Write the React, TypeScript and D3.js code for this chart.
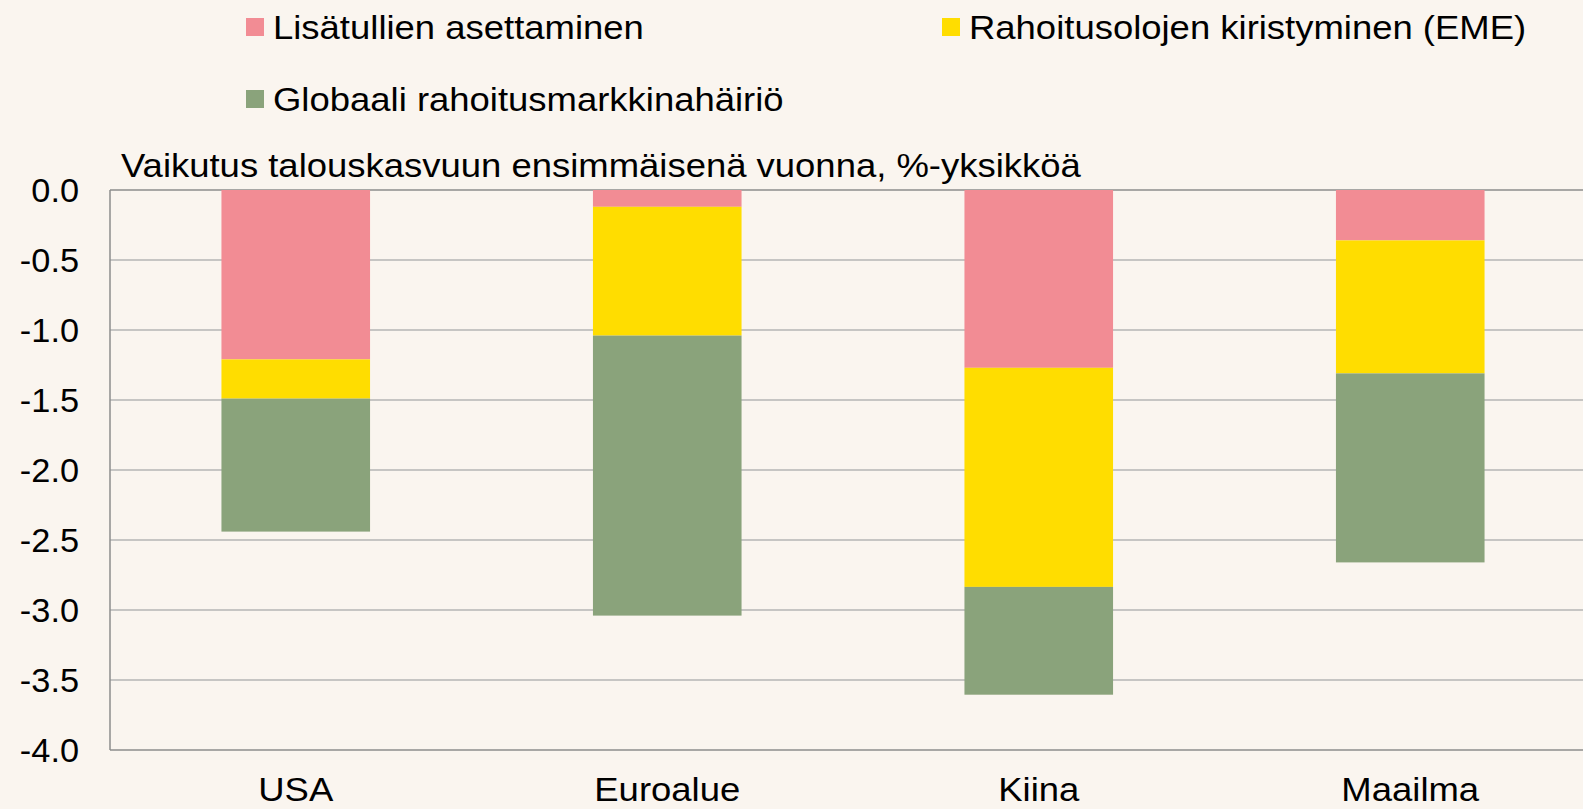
import { useEffect, useRef } from "react";
import * as d3 from "d3";

const categories = ["USA", "Euroalue", "Kiina", "Maailma"];
const seriesNames = [
  "Lisätullien asettaminen",
  "Rahoitusolojen kiristyminen (EME)",
  "Globaali rahoitusmarkkinahäiriö",
];
const tariffs = [-1.21, -0.12, -1.27, -0.36];
const financing = [-0.28, -0.92, -1.565, -0.95];
const globalShock = [-0.95, -2.0, -0.77, -1.35];
const yTicks = [0, -0.5, -1, -1.5, -2, -2.5, -3, -3.5, -4];
const colors = ["#F28C94", "#FFDD00", "#8AA37B"];
const title = "Vaikutus talouskasvuun ensimmäisenä vuonna, %-yksikköä";

const W = 1583;
const H = 809;
const FONT = "'Liberation Sans', Arial, sans-serif";
// the source text is slightly wider than the font at this height
const STRETCH = 1.105;

export default function App() {
  const svgRef = useRef<SVGSVGElement>(null);

  useEffect(() => {
    if (!svgRef.current) return;
    const svg = d3.select(svgRef.current);
    svg.selectAll("*").remove();

    const plot = { left: 110, top: 190, right: 1596, bottom: 750 };

    const x = d3
      .scaleBand()
      .domain(categories)
      .range([plot.left, plot.right])
      .padding(0);
    const barW = x.bandwidth() * 0.4;

    const y = d3.scaleLinear().domain([0, -4]).range([plot.top, plot.bottom]);

    const label = (
      g: d3.Selection<any, any, any, any>,
      tx: number,
      ty: number,
      anchor: string,
      txt: string,
      sx = STRETCH
    ) =>
      g
        .append("text")
        .attr("transform", `translate(${tx},${ty}) scale(${sx},1)`)
        .attr("text-anchor", anchor)
        .style("font-family", FONT)
        .style("font-size", "33px")
        .attr("fill", "#000")
        .text(txt);

    // grid lines
    svg
      .append("g")
      .selectAll("line")
      .data(yTicks.filter((t) => t !== -4))
      .enter()
      .append("line")
      .attr("x1", plot.left)
      .attr("x2", W)
      .attr("y1", (d) => y(d))
      .attr("y2", (d) => y(d))
      .attr("stroke", (d) => (d === 0 ? "#8c8c8c" : "#b4b4b4"))
      .attr("stroke-width", 1.5);

    // stacked bars
    const rows = categories.map((c, i) => ({
      cat: c,
      vals: [tariffs[i], financing[i], globalShock[i]],
    }));
    rows.forEach((r) => {
      let acc = 0;
      r.vals.forEach((v, si) => {
        const top = acc;
        const bottom = acc + v;
        acc = bottom;
        svg
          .append("rect")
          .attr("x", (x(r.cat) || 0) + x.bandwidth() / 2 - barW / 2)
          .attr("y", y(top))
          .attr("width", barW)
          .attr("height", y(bottom) - y(top))
          .attr("fill", colors[si]);
      });
    });

    // axis lines
    svg
      .append("line")
      .attr("x1", plot.left)
      .attr("x2", plot.left)
      .attr("y1", plot.top)
      .attr("y2", plot.bottom)
      .attr("stroke", "#8c8c8c")
      .attr("stroke-width", 1.5);
    svg
      .append("line")
      .attr("x1", plot.left)
      .attr("x2", W)
      .attr("y1", y(-4))
      .attr("y2", y(-4))
      .attr("stroke", "#8c8c8c")
      .attr("stroke-width", 1.5);

    // y tick labels
    const yg = svg.append("g");
    yTicks.forEach((t) => {
      label(yg, 79, y(t) + 12, "end", d3.format(".1f")(t).replace("−", "-"), 1.04);
    });

    // category labels
    const xg = svg.append("g");
    categories.forEach((c) => {
      label(xg, (x(c) || 0) + x.bandwidth() / 2, 801, "middle", c);
    });

    // title
    label(svg, 121, 177, "start", title);

    // legend
    const legendPos = [
      { x: 246, y: 27 },
      { x: 942, y: 27 },
      { x: 246, y: 99 },
    ];
    seriesNames.forEach((name, i) => {
      const p = legendPos[i];
      svg
        .append("rect")
        .attr("x", p.x)
        .attr("y", p.y - 9)
        .attr("width", 18)
        .attr("height", 18)
        .attr("fill", colors[i]);
      label(svg, p.x + 27, p.y + 12, "start", name);
    });
  }, []);

  return (
    <div
      style={{
        position: "fixed",
        left: 0,
        top: 0,
        width: W,
        height: H,
        background: "#FAF5EF",
        overflow: "hidden",
      }}
    >
      <svg ref={svgRef} width={W} height={H} style={{ display: "block" }} />
    </div>
  );
}
